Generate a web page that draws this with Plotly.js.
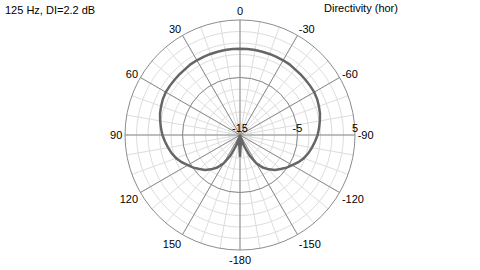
<!DOCTYPE html>
<html>
<head>
<meta charset="utf-8">
<script src="https://cdn.plot.ly/plotly-3.0.1.min.js"></script>
<style>html,body{margin:0;padding:0;background:#fff;}#chart{width:480px;height:270px;}</style>
</head>
<body>
<div id="chart"></div>
<script>
// Directivity data (dB) vs angle (deg, counterclockwise from front)
var angles = [0,5,10,15,20,25,30,35,40,45,50,55,60,65,70,75,80,85,90,95,100,105,110,115,120,125,130,135,140,145,150,155,160,165,170,175,180,
              185,190,195,200,205,210,215,220,225,230,235,240,245,250,255,260,265,270,275,280,285,290,295,300,305,310,315,320,325,330,335,340,345,350,355,360];
var levels = [0.0,0.0,0.0,0.0,0.0,0.0,0.0,0.0,-0.1,-0.1,-0.1,-0.1,-0.1,-0.2,-0.4,-0.6,-0.9,-1.2,-1.5,-1.9,-2.3,-2.7,-3.2,-3.8,-4.5,-5.1,-5.8,-6.4,-7.2,-8.1,-9.3,-11.0,-13.0,-14.6,-15.0,-13.5,-11.2,
              -13.5,-15.0,-14.6,-13.0,-11.0,-9.3,-8.1,-7.2,-6.4,-5.8,-5.1,-4.5,-3.8,-3.2,-2.7,-2.3,-1.9,-1.5,-1.2,-0.9,-0.6,-0.4,-0.2,-0.1,-0.1,-0.1,-0.1,-0.1,0.0,0.0,0.0,0.0,0.0,0.0,0.0,0.0];
var radialRange = [-15, 5];
var radialMajor = [-15, -5, 5];
var radialMajorText = ['-15', '-5', '5'];
var angleMajor = [0,30,60,90,120,150,180,210,240,270,300,330];
var angleMajorText = ['0','30','60','90','120','150','-180','-150','-120','-90','-60','-30'];
var titleText = '125 Hz, DI=2.2 dB';
var legendText = 'Directivity (hor)';

var fontFam = 'Liberation Sans, Arial, sans-serif';
var dom = {x: [125/480, 355/480], y: [20/270, 250/270]};

var data = [{
  type: 'scatterpolar',
  r: [radialRange[0]],
  theta: [0],
  mode: 'markers',
  marker: {size: 0.1, opacity: 0},
  subplot: 'polar',
  hoverinfo: 'skip',
  showlegend: false
}, {
  type: 'scatterpolar',
  r: levels,
  theta: angles,
  mode: 'lines',
  line: {color: '#666666', width: 2.5},
  subplot: 'polar2',
  hoverinfo: 'skip',
  showlegend: false
}];

var layout = {
  width: 480, height: 270,
  margin: {l: 0, r: 0, t: 0, b: 0},
  paper_bgcolor: '#ffffff',
  showlegend: false,
  font: {family: fontFam, size: 11, color: '#000'},
  polar: {
    domain: dom,
    bgcolor: '#ffffff',
    radialaxis: {range: radialRange, tick0: -15, dtick: 2, showticklabels: false, ticks: '', showline: false, gridcolor: '#dddddd', gridwidth: 1},
    angularaxis: {rotation: 90, direction: 'counterclockwise', dtick: 10, showticklabels: false, ticks: '', showline: false, gridcolor: '#dddddd', gridwidth: 1}
  },
  polar2: {
    domain: dom,
    bgcolor: 'rgba(0,0,0,0)',
    radialaxis: {range: radialRange, tickmode: 'array', tickvals: radialMajor, ticktext: radialMajorText, angle: 0, side: 'counterclockwise', ticks: '', showline: false, gridcolor: '#8c8c8c', gridwidth: 1, tickfont: {family: fontFam, size: 11, color: '#000'}},
    angularaxis: {rotation: 90, direction: 'counterclockwise', tickmode: 'array', tickvals: angleMajor, ticktext: angleMajorText, ticks: '', showline: true, linecolor: '#8c8c8c', linewidth: 1, gridcolor: '#8c8c8c', gridwidth: 1, tickfont: {family: fontFam, size: 11, color: '#000'}}
  },
  annotations: [
    {text: titleText, xref: 'paper', yref: 'paper', x: 3/480, y: 1 - 10/270, xanchor: 'left', yanchor: 'middle', showarrow: false, font: {family: fontFam, size: 11, color: '#000'}},
    {text: legendText, xref: 'paper', yref: 'paper', x: 322/480, y: 1 - 8/270, xanchor: 'left', yanchor: 'middle', showarrow: false, font: {family: fontFam, size: 11, color: '#000'}}
  ]
};

Plotly.newPlot('chart', data, layout, {staticPlot: true, displayModeBar: false});
</script>
</body>
</html>
